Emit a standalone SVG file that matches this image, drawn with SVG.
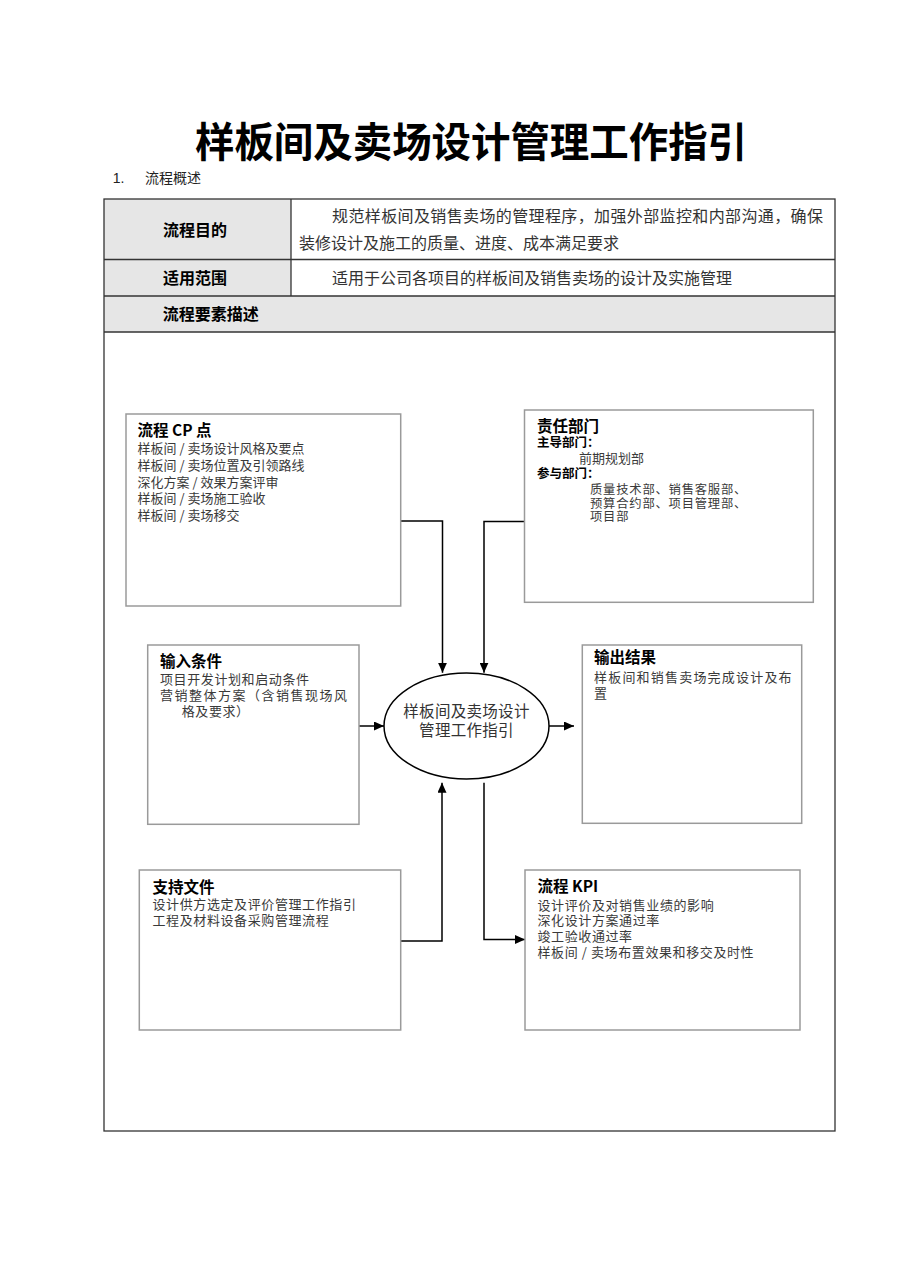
<svg xmlns="http://www.w3.org/2000/svg" width="909" height="1286" viewBox="0 0 909 1286">
<style>
text{font-family:"Noto Sans CJK SC","Liberation Sans",sans-serif;}
.title{font-size:41px;font-weight:700;fill:#000;}
.sec{font-size:14px;fill:#222;}
.th{font-size:16px;font-weight:700;fill:#000;}
.td{font-size:16px;fill:#333;}
.box{fill:#fff;stroke:#9a9a9a;stroke-width:1.5;}
.bt{font-size:15.5px;font-weight:700;fill:#000;}
.sub{font-size:12.5px;font-weight:700;fill:#000;}
.body{font-size:13px;fill:#3a3a3a;letter-spacing:0.6px;}
.b13{font-size:13px;fill:#3a3a3a;}
.b12{font-size:12.3px;fill:#3a3a3a;letter-spacing:0.8px;}
.conn{fill:none;stroke:#000;stroke-width:1.5;}
.grid{stroke:#333;stroke-width:1.3;fill:none;}
</style>
<defs>
<marker id="arr" markerUnits="userSpaceOnUse" markerWidth="10" markerHeight="9" refX="10" refY="4.5" orient="auto">
<path d="M0,0 L10,4.5 L0,9 z" fill="#000"/>
</marker>
</defs>
<rect x="0" y="0" width="909" height="1286" fill="#fff"/>

<text class="title" x="195" y="157" textLength="552" lengthAdjust="spacingAndGlyphs">样板间及卖场设计管理工作指引</text>
<text class="sec" x="112.7" y="183" style="font-family:'Liberation Sans',sans-serif">1.</text>
<text class="sec" x="145" y="183">流程概述</text>

<g id="table">
<rect x="104" y="199" width="187" height="97" fill="#e6e6e6"/>
<rect x="104" y="296" width="731" height="36" fill="#e6e6e6"/>
<rect class="grid" x="104" y="199" width="731" height="932"/>
<line class="grid" x1="104" y1="259.5" x2="835" y2="259.5"/>
<line class="grid" x1="104" y1="296" x2="835" y2="296"/>
<line class="grid" x1="104" y1="332" x2="835" y2="332"/>
<line class="grid" x1="291" y1="199" x2="291" y2="296"/>
<text class="th" x="195" y="236" text-anchor="middle">流程目的</text>
<text class="td" x="332" y="222" textLength="491" lengthAdjust="spacing">规范样板间及销售卖场的管理程序，加强外部监控和内部沟通，确保</text>
<text class="td" x="299" y="249">装修设计及施工的质量、进度、成本满足要求</text>
<text class="th" x="195" y="284" text-anchor="middle">适用范围</text>
<text class="td" x="332" y="284">适用于公司各项目的样板间及销售卖场的设计及实施管理</text>
<text class="th" x="162.7" y="320">流程要素描述</text>
</g>

<g id="connectors">
<polyline class="conn" points="400.7,521 442.5,521 442.5,672.7" marker-end="url(#arr)"/>
<polyline class="conn" points="524.5,521.5 484,521.5 484,672.7" marker-end="url(#arr)"/>
<line class="conn" x1="359" y1="726" x2="384" y2="726" marker-end="url(#arr)"/>
<line class="conn" x1="549" y1="726" x2="574" y2="726" marker-end="url(#arr)"/>
<polyline class="conn" points="400.7,941 442,941 442,782.7" marker-end="url(#arr)"/>
<polyline class="conn" points="484,782.7 484,939.5 525,939.5" marker-end="url(#arr)"/>
</g>

<g id="cp">
<rect class="box" x="126" y="414" width="274.7" height="192"/>
<text class="bt" x="137.5" y="436">流程 CP 点</text>
<text class="b13" x="137.5" y="452.7">样板间 / 卖场设计风格及要点</text>
<text class="b13" x="137.5" y="469.7">样板间 / 卖场位置及引领路线</text>
<text class="b13" x="137.5" y="486.5">深化方案 / 效果方案评审</text>
<text class="b13" x="137.5" y="503.3">样板间 / 卖场施工验收</text>
<text class="b13" x="137.5" y="520.3">样板间 / 卖场移交</text>
</g>

<g id="dept">
<rect class="box" x="524.5" y="410" width="288.8" height="192.3"/>
<text class="bt" x="537" y="431.5">责任部门</text>
<text class="sub" x="537" y="447">主导部门：</text>
<text class="b13" x="579" y="463">前期规划部</text>
<text class="sub" x="537" y="478">参与部门：</text>
<text class="b12" x="590" y="494">质量技术部、销售客服部、</text>
<text class="b12" x="590" y="507.5">预算合约部、项目管理部、</text>
<text class="b12" x="590" y="521">项目部</text>
</g>

<g id="input">
<rect class="box" x="147.7" y="645" width="211.3" height="179.3"/>
<text class="bt" x="160" y="666.7">输入条件</text>
<text class="body" x="160" y="684">项目开发计划和启动条件</text>
<text class="body" x="160" y="700" style="letter-spacing:1.5px">营销整体方案（含销售现场风</text>
<text class="body" x="181.7" y="716">格及要求）</text>
</g>

<g id="center">
<ellipse cx="466.5" cy="726" rx="82.5" ry="53" fill="#fff" stroke="#000" stroke-width="1.5"/>
<text x="466.5" y="717" text-anchor="middle" style="font-size:15.5px;fill:#333;letter-spacing:0.3px">样板间及卖场设计</text>
<text x="466.5" y="736" text-anchor="middle" style="font-size:15.5px;fill:#333;letter-spacing:0.3px">管理工作指引</text>
</g>

<g id="output">
<rect class="box" x="582.3" y="645" width="219.4" height="178.3"/>
<text class="bt" x="594" y="663.3">输出结果</text>
<text class="body" x="594" y="681.5" style="letter-spacing:1.2px">样板间和销售卖场完成设计及布</text>
<text class="body" x="594" y="698">置</text>
</g>

<g id="support">
<rect class="box" x="139.3" y="870" width="261.4" height="160"/>
<text class="bt" x="152.5" y="892.5">支持文件</text>
<text class="body" x="152.5" y="908.5">设计供方选定及评价管理工作指引</text>
<text class="body" x="152.5" y="924.5">工程及材料设备采购管理流程</text>
</g>

<g id="kpi">
<rect class="box" x="525" y="870" width="275" height="160"/>
<text class="bt" x="537.5" y="891.7">流程 KPI</text>
<text class="body" x="537.5" y="909.5">设计评价及对销售业绩的影响</text>
<text class="body" x="537.5" y="925.2">深化设计方案通过率</text>
<text class="body" x="537.5" y="940.8">竣工验收通过率</text>
<text class="body" x="537.5" y="956.5">样板间 / 卖场布置效果和移交及时性</text>
</g>
</svg>
